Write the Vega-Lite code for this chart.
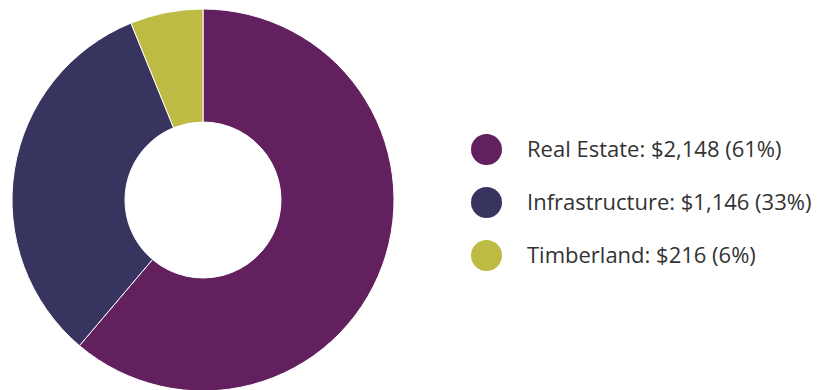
{
  "$schema": "https://vega.github.io/schema/vega-lite/v6.json",
  "width": 406,
  "height": 400,
  "padding": 0,
  "background": "white",
  "data": {
    "values": [
      {"category": "Real Estate", "value": 2148, "label": "Real Estate: $2,148 (61%)", "order": 1},
      {"category": "Infrastructure", "value": 1146, "label": "Infrastructure: $1,146 (33%)", "order": 2},
      {"category": "Timberland", "value": 216, "label": "Timberland: $216 (6%)", "order": 3}
    ]
  },
  "mark": {"type": "arc", "outerRadius": 191, "innerRadius": 78, "stroke": "white", "strokeWidth": 1},
  "encoding": {
    "theta": {"field": "value", "type": "quantitative", "stack": true},
    "order": {"field": "order", "type": "quantitative"},
    "color": {
      "field": "label",
      "type": "nominal",
      "sort": ["Real Estate: $2,148 (61%)", "Infrastructure: $1,146 (33%)", "Timberland: $216 (6%)"],
      "scale": {
        "domain": ["Real Estate: $2,148 (61%)", "Infrastructure: $1,146 (33%)", "Timberland: $216 (6%)"],
        "range": ["#63205e", "#373460", "#bebb45"]
      },
      "legend": {
        "title": null,
        "orient": "none",
        "legendX": 471,
        "legendY": 134,
        "direction": "vertical",
        "symbolType": "circle",
        "symbolSize": 961,
        "symbolStrokeWidth": 0,
        "labelFont": "Open Sans",
        "labelFontSize": 22,
        "labelFontWeight": 400,
        "labelColor": "#333333",
        "labelLimit": 0,
        "labelOffset": 25,
        "rowPadding": 22,
        "padding": 0
      }
    }
  },
  "config": {"view": {"stroke": null}}
}
